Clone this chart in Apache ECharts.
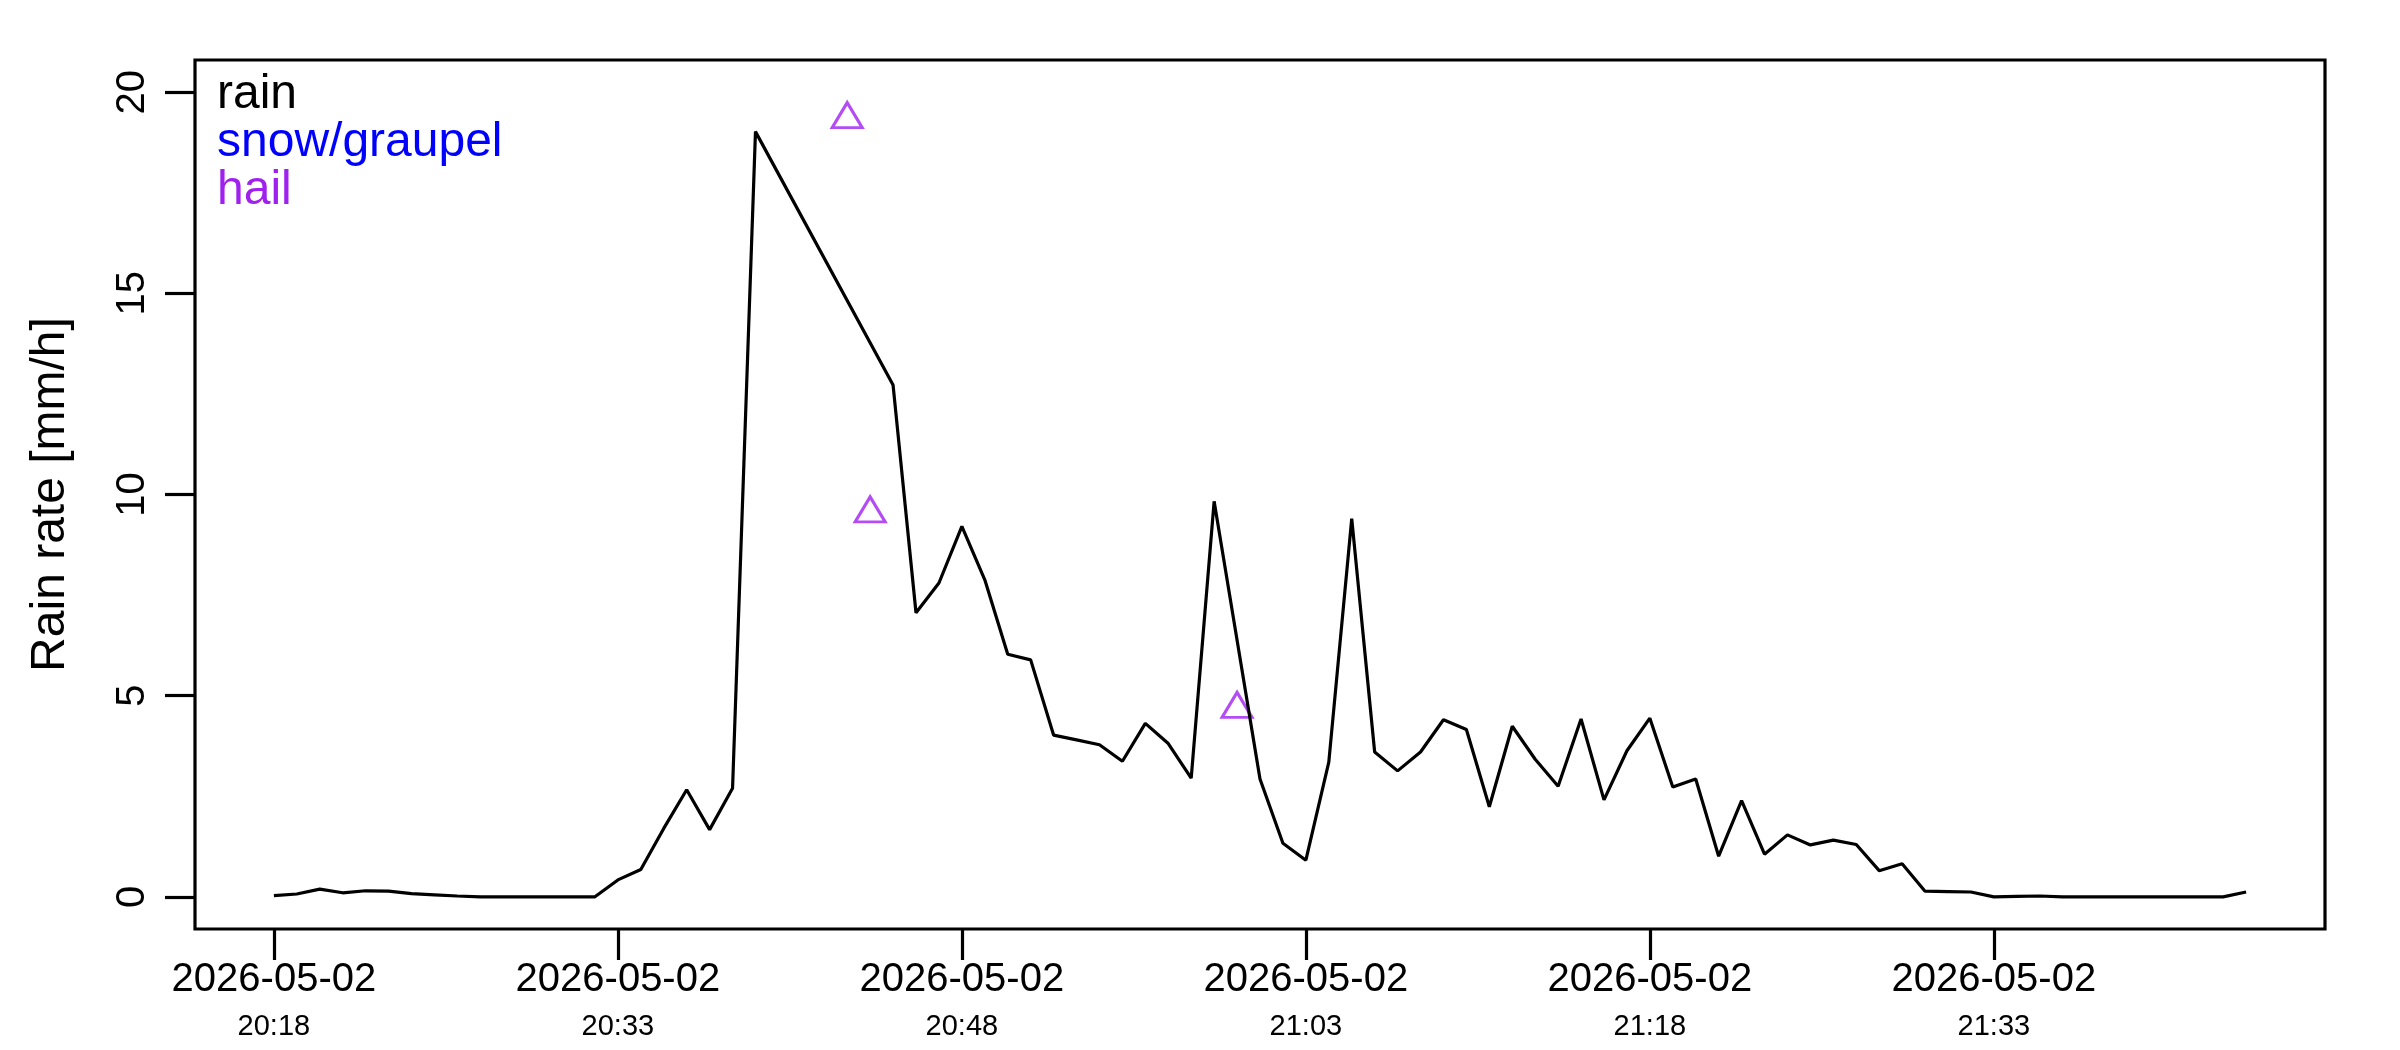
<!DOCTYPE html>
<html>
<head>
<meta charset="utf-8">
<title>Rain rate</title>
<script src="https://cdn.jsdelivr.net/npm/echarts@6.0.0/dist/echarts.min.js"></script>
<style>
  html, body { margin: 0; padding: 0; background: #fff; }
  #main { width: 2400px; height: 1050px; }
</style>
</head>
<body>
<div id="main"></div>
<script>
// rain rate, one value per minute (times with no rain value are simply absent)
var rainTimes = ['20:18','20:19','20:20','20:21','20:22','20:23','20:24','20:25','20:26','20:27',
  '20:28','20:29','20:30','20:31','20:32','20:33','20:34','20:35','20:36','20:37',
  '20:38','20:39','20:45','20:46','20:47','20:48','20:49','20:50','20:51','20:52',
  '20:53','20:54','20:55','20:56','20:57','20:58','20:59','21:01','21:02','21:03',
  '21:04','21:05','21:06','21:07','21:08','21:09','21:10','21:11','21:12','21:13',
  '21:14','21:15','21:16','21:17','21:18','21:19','21:20','21:21','21:22','21:23',
  '21:24','21:25','21:26','21:27','21:28','21:29','21:30','21:31','21:32','21:33',
  '21:34','21:35','21:36','21:37','21:38','21:39','21:40','21:41','21:42','21:43','21:44']
var rainValues = [0.03,0.07,0.19,0.10,0.15,0.14,0.08,0.05,0.02,0,
  0,0,0,0,0,0.42,0.68,1.70,2.66,1.67,
  2.70,19.02,12.72,7.06,7.80,9.21,7.88,6.03,5.89,4.02,
  3.90,3.78,3.37,4.31,3.81,2.95,9.83,2.93,1.33,0.91,
  3.35,9.40,3.60,3.13,3.60,4.40,4.16,2.24,4.24,3.42,
  2.75,4.42,2.41,3.63,4.44,2.73,2.93,1.01,2.39,1.06,
  1.54,1.29,1.41,1.30,0.65,0.82,0.14,0.13,0.12,0,
  0.01,0.02,0,0,0,0,0,0,0,0,0.12]

var snowTimes = []
var snowValues = []

var hailTimes = ['20:43','20:44','21:00']
var hailValues = [19.32,9.52,4.66]

var dateLabel = '2026-05-02'
var xTickTimes = ['20:18','20:33','20:48','21:03','21:18','21:33']
var yTicks = [0,5,10,15,20]

var FONT = 'Liberation Sans'

// "hh:mm" -> minutes since midnight
function toMin(t) {
  var p = t.split(':')
  return parseInt(p[0], 10) * 60 + parseInt(p[1], 10)
}
function toHM(m) {
  m = Math.round(m)
  var h = Math.floor(m / 60), mm = m % 60
  return (h < 10 ? '0' : '') + h + ':' + (mm < 10 ? '0' : '') + mm
}
function pairs(times, values) {
  var out = []
  for (var i = 0; i < times.length; i++) {
    out.push([toMin(times[i]), values[i]])
  }
  return out
}

var xTicks = xTickTimes.map(toMin)
var first = toMin(rainTimes[0]), last = toMin(rainTimes[rainTimes.length - 1])
var pad = (last - first) * 0.04

var myChart = echarts.init(document.getElementById('main'))
myChart.setOption({
  animation: false,
  backgroundColor: '#fff',
  textStyle: { fontFamily: FONT },
  grid: {
    left: 195, right: 75, top: 60, bottom: 121,
    show: true, borderColor: '#000', borderWidth: 3.2,
    backgroundColor: 'transparent'
  },
  legend: {
    orient: 'vertical',
    left: 212, top: 71,
    padding: 0, itemGap: 0,
    itemWidth: 0, itemHeight: 48,
    icon: 'none',
    selectedMode: false,
    textStyle: { fontSize: 48, lineHeight: 48, fontFamily: FONT },
    data: [
      { name: 'rain', textStyle: { color: '#000000' } },
      { name: 'snow/graupel', textStyle: { color: '#0000FF' } },
      { name: 'hail', textStyle: { color: '#A020F0' } }
    ]
  },
  xAxis: {
    type: 'value',
    min: first - pad,
    max: last + pad,
    splitLine: { show: false },
    axisLine: { show: false, onZero: false },
    axisTick: {
      customValues: xTicks,
      length: 31,
      lineStyle: { color: '#000', width: 3.2 }
    },
    axisLabel: {
      customValues: xTicks,
      margin: 27,
      color: '#000',
      formatter: function (v) {
        return '{d|' + dateLabel + '}\n{t|' + toHM(v) + '}'
      },
      rich: {
        d: { fontSize: 40, lineHeight: 48, fontFamily: FONT, color: '#000' },
        t: { fontSize: 29, lineHeight: 46, fontFamily: FONT, color: '#000' }
      }
    }
  },
  yAxis: {
    type: 'value',
    min: -0.8,
    max: 20.8,
    name: 'Rain rate [mm/h]',
    nameLocation: 'middle',
    nameRotate: 90,
    nameGap: 120,
    nameTextStyle: { fontSize: 48, color: '#000', fontFamily: FONT },
    splitLine: { show: false },
    axisLine: { show: false, onZero: false },
    axisTick: {
      customValues: yTicks,
      length: 30,
      lineStyle: { color: '#000', width: 3.2 }
    },
    axisLabel: {
      customValues: yTicks,
      rotate: 90,
      margin: 42,
      fontSize: 40,
      color: '#000',
      fontFamily: FONT
    }
  },
  series: [
    {
      name: 'rain',
      type: 'line',
      data: pairs(rainTimes, rainValues),
      showSymbol: false,
      symbol: 'none',
      color: '#000',
      lineStyle: { color: '#000', width: 3.2 }
    },
    {
      name: 'snow/graupel',
      type: 'scatter',
      data: pairs(snowTimes, snowValues),
      symbol: 'triangle',
      symbolSize: [30, 25],
      color: '#0000FF'
    },
    {
      // R's triangle sits with its centroid on the point, so lift the box a little
      name: 'hail',
      type: 'scatter',
      data: pairs(hailTimes, hailValues),
      symbol: 'triangle',
      symbolSize: [30, 25],
      symbolOffset: [0, -4.4],
      color: '#A020F0',
      itemStyle: { color: 'rgba(0,0,0,0)', borderColor: '#A020F0', borderWidth: 3 }
    }
  ]
})
</script>
</body>
</html>
